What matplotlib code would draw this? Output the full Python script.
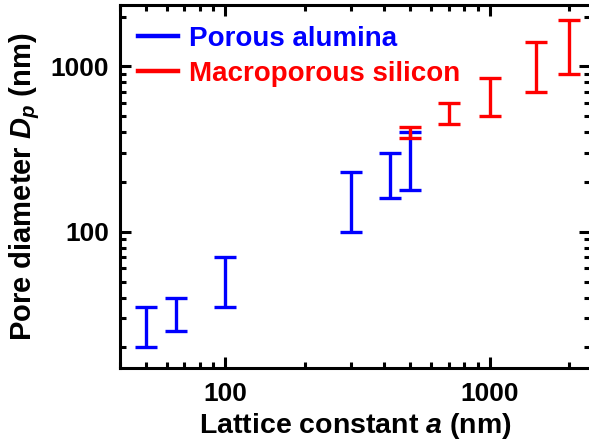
import numpy as np
import matplotlib
matplotlib.use('Agg')
import matplotlib.pyplot as plt
from matplotlib.lines import Line2D
from matplotlib.ticker import LogLocator, NullFormatter, FixedLocator, FixedFormatter

### DATA
# porous alumina: lattice constant and pore diameter range (nm)
alu_a = [50, 65, 100, 300, 420, 500]
alu_lo = [20, 25, 35, 100, 160, 180]
alu_hi = [35, 40, 70, 230, 300, 400]
# macroporous silicon
si_a = [500, 700, 1000, 1500, 2000]
si_lo = [370, 450, 500, 700, 900]
si_hi = [430, 600, 850, 1400, 1900]

x_ticks = [100, 1000]
y_ticks = [100, 1000]

plt.rcParams['font.family'] = ['Liberation Sans', 'DejaVu Sans']
plt.rcParams['font.weight'] = 'bold'
plt.rcParams['mathtext.fontset'] = 'custom'
plt.rcParams['mathtext.it'] = 'Liberation Sans:italic:bold'
plt.rcParams['mathtext.rm'] = 'Liberation Sans:bold'

fig = plt.figure(figsize=(5.89, 4.46), dpi=100)
ax = fig.add_axes([0.204, 0.175, 0.798, 0.813])


def draw_bars(a, lo, hi, color):
    a = np.array(a, dtype=float)
    lo = np.array(lo, dtype=float)
    hi = np.array(hi, dtype=float)
    mid = np.sqrt(lo * hi)
    ax.errorbar(a, mid, yerr=[mid - lo, hi - mid], fmt='none', ecolor=color,
                elinewidth=2.4, capsize=8, capthick=2.4)


draw_bars(alu_a, alu_lo, alu_hi, 'blue')
draw_bars(si_a, si_lo, si_hi, 'red')

ax.set_xscale('log')
ax.set_yscale('log')
ax.set_xlim(40, 2400)
ax.set_ylim(15, 2340)

ax.xaxis.set_major_locator(FixedLocator(x_ticks))
ax.xaxis.set_major_formatter(FixedFormatter([str(t) for t in x_ticks]))
ax.yaxis.set_major_locator(FixedLocator(y_ticks))
ax.yaxis.set_major_formatter(FixedFormatter([str(t) for t in y_ticks]))
ax.xaxis.set_minor_locator(LogLocator(base=10, subs=np.arange(2, 10)))
ax.yaxis.set_minor_locator(LogLocator(base=10, subs=np.arange(2, 10)))
ax.xaxis.set_minor_formatter(NullFormatter())
ax.yaxis.set_minor_formatter(NullFormatter())

ax.tick_params(which='both', direction='in', top=True, right=True, width=2.2)
ax.tick_params(which='major', length=8, labelsize=19)
ax.tick_params(axis='x', which='major', pad=10)
ax.tick_params(axis='y', which='major', pad=8)
ax.tick_params(which='minor', length=4.5)
for s in ax.spines.values():
    s.set_linewidth(2.2)

ax.set_xlabel('Lattice constant $a$ (nm)', fontsize=20.5, fontweight='bold', labelpad=4)
ax.set_ylabel('Pore diameter $D_p$ (nm)', fontsize=21, fontweight='bold', labelpad=6)

handles = [Line2D([], [], color='blue', lw=3.2), Line2D([], [], color='red', lw=3.2)]
leg = ax.legend(handles, ['Porous alumina', 'Macroporous silicon'], loc='upper left',
                bbox_to_anchor=(0.026, 0.958), frameon=False, handlelength=1.45,
                handletextpad=0.4, borderaxespad=0, borderpad=0.2, labelspacing=0.32,
                prop={'weight': 'bold', 'size': 20})
for txt, col in zip(leg.get_texts(), ['blue', 'red']):
    txt.set_color(col)

fig.savefig('out.png', dpi=100)
